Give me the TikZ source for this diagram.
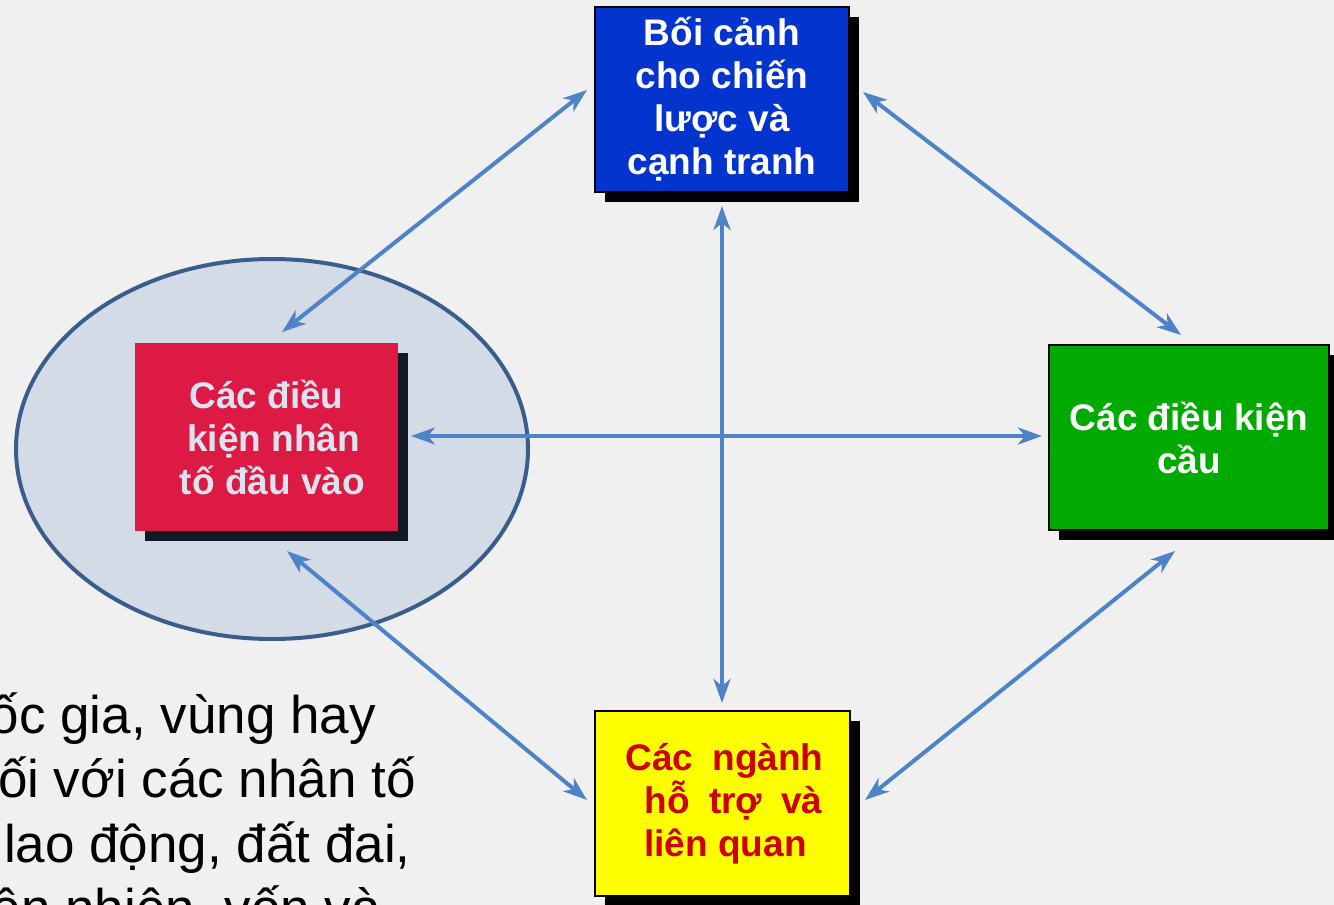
\documentclass[tikz,border=0pt]{standalone}
\usepackage{fontspec}
\setmainfont{Liberation Sans}
\usetikzlibrary{arrows.meta,shadows,calc,shapes.geometric}

\definecolor{pagebg}{HTML}{F0F0F0}
\definecolor{zonefill}{HTML}{D3DCE6}
\definecolor{zoneline}{HTML}{3A5E8C}
\definecolor{linkblue}{HTML}{4F83C8}
\definecolor{strategyblue}{HTML}{0434CE}
\definecolor{demandgreen}{HTML}{00AA00}
\definecolor{industryyellow}{HTML}{FFFF00}
\definecolor{factorred}{HTML}{DC1A44}
\definecolor{factortext}{HTML}{DCE3EE}
\definecolor{factorshadow}{HTML}{111826}
\definecolor{industryred}{HTML}{CC0000}

\tikzset{
  box/.style={rectangle, draw=black, line width=2pt, inner sep=0pt,
    align=center, font=\bfseries\fontsize{37}{43}\selectfont,
    general shadow={fill=black, shadow xshift=10pt, shadow yshift=-10pt}},
  link/.style={draw=linkblue, line width=4pt, {Stealth[length=24pt,width=17pt,inset=7pt]}-{Stealth[length=24pt,width=17pt,inset=7pt]}},
  bodytext/.style={anchor=base east, inner sep=0pt, font=\fontsize{53}{64}\selectfont, text=black}
}

\begin{document}
\begin{tikzpicture}[x=1pt, y=-1pt]
  \fill[pagebg] (0,0) rectangle (1334,905);
  \useasboundingbox (0,0) rectangle (1334,905);
  \clip (0,0) rectangle (1334,905);

  % zone around the factor box
  \node[ellipse, draw=zoneline, fill=zonefill, line width=4pt, inner sep=0pt,
        minimum width=512pt, minimum height=380pt] (zone) at (272,449) {};

  % the four determinants
  \node[box, fill=strategyblue, text=white, minimum width=254pt, minimum height=185pt]
    (blue) at (722,99.5) {Bối cảnh\\cho chiến\\lược và\\cạnh tranh};
  \node[box, fill=demandgreen, text=white, minimum width=280pt, minimum height=185pt]
    (green) at (1189,437.5) {Các điều kiện\\cầu};
  \node[box, fill=industryyellow, text=industryred, minimum width=255pt, minimum height=185pt]
    (yellow) at (722.5,803.5) {\hspace{4pt}Các\hspace{9pt} ngành\\\hspace{22pt}hỗ\hspace{9pt} trợ\hspace{9pt} và\\\hspace{6pt}liên quan};
  \node[box, draw=none, fill=factorred, text=factortext, minimum width=263pt, minimum height=188pt,
        general shadow={fill=factorshadow, shadow xshift=10pt, shadow yshift=-10pt}]
    (red) at (266.5,437) {Các điều\\\hspace{14pt}kiện nhân\\\hspace{12pt}tố đầu vào};

  % two-way links
  \draw[link] ($(blue.west)+(-7,-9.5)$) -- ($(red.north)+(15.5,-10)$);
  \draw[link] ($(blue.east)+(13,-7.5)$) -- ($(green.north)+(-8,-9)$);
  \draw[link] ($(blue.south)+(0,13)$) -- ($(yellow.north)+(-0.5,-7)$);
  \draw[link] ($(red.east)+(12,-1)$) -- ($(green.west)+(-6,-1.5)$);
  \draw[link] ($(red.south)+(20.5,19)$) -- ($(yellow.west)+(-7,-3.5)$);
  \draw[link] ($(green.south)+(-14,20)$) -- ($(yellow.east)+(14,-3.5)$);

  % body text
  \node[bodytext] (line1) at (376,733) {ốc gia, vùng hay};
  \node[bodytext] (line2) at (416,797) {ối với các nhân tố};
  \node[bodytext] (line3) at (411,862) {lao động, đất đai,};
  \node[bodytext] (line4) at (381,926) {ên nhiên, vốn và};
\end{tikzpicture}
\end{document}
